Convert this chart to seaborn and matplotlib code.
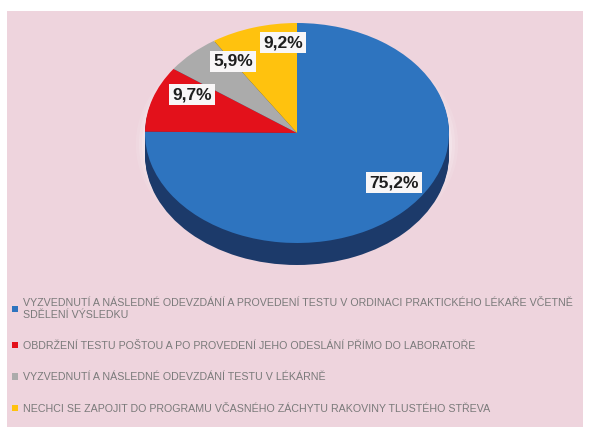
import numpy as np
import matplotlib
matplotlib.use("Agg")
import matplotlib.pyplot as plt
from matplotlib.patches import Rectangle
import seaborn as sns

# Survey answers and their shares (%)
categories = [
    "VYZVEDNUTÍ A NÁSLEDNÉ ODEVZDÁNÍ A PROVEDENÍ TESTU V ORDINACI PRAKTICKÉHO LÉKAŘE VČETNĚ\nSDĚLENÍ VÝSLEDKU",
    "OBDRŽENÍ TESTU POŠTOU A PO PROVEDENÍ JEHO ODESLÁNÍ PŘÍMO DO LABORATOŘE",
    "VYZVEDNUTÍ A NÁSLEDNÉ ODEVZDÁNÍ TESTU V LÉKÁRNĚ",
    "NECHCI SE ZAPOJIT DO PROGRAMU VČASNÉHO ZÁCHYTU RAKOVINY TLUSTÉHO STŘEVA",
]
shares = [75.2, 9.7, 5.9, 9.2]

colors = ["#2E74BF", "#E3111B", "#ABABAB", "#FFC20E"]
side_color = "#1C3A6A"
panel_color = "#EED4DD"

sns.set_theme(style="white")
plt.rcParams["font.family"] = ["Liberation Sans", "DejaVu Sans"]

W, H = 592, 432
fig = plt.figure(figsize=(W / 100, H / 100), dpi=100, facecolor="white")
fig.patches.append(Rectangle((7 / W, 5 / H), 576 / W, 416 / H,
                             transform=fig.transFigure, fc=panel_color,
                             ec="none", zorder=-5))

# pie axes: 152 px per unit horizontally, 110 px per unit vertically
sx, sy = 152, 110
cx, cy = 297, 133
xlim = (-1.1, 1.1)
ylim = (-1.35, 1.1)
left = cx + xlim[0] * sx
top = cy - ylim[1] * sy
bottom = cy - ylim[0] * sy
ax = fig.add_axes([left / W, (H - bottom) / H,
                   (xlim[1] - xlim[0]) * sx / W, (bottom - top) / H])
ax.set_zorder(2)
ax.patch.set_visible(False)

depth = 0.2

# soft halo around the disc
for r, a in [(1.06, 0.10), (1.04, 0.14), (1.02, 0.20)]:
    ax.pie([1], colors=["white"], radius=r, center=(0, -depth / 2),
           wedgeprops=dict(linewidth=0, alpha=a))

# side of the disc
for d in np.linspace(0, depth, 16)[1:]:
    ax.pie([1], colors=[side_color], radius=1, center=(0, -d),
           wedgeprops=dict(linewidth=0))

def pct_fmt(p):
    return f"{p:.1f}%".replace(".", ",")

wedges, texts, autotexts = ax.pie(
    shares, colors=colors, startangle=90, counterclock=False,
    autopct=pct_fmt, wedgeprops=dict(linewidth=0),
)

label_xy = [(0.64, -0.45), (-0.69, 0.35), (-0.42, 0.65), (-0.09, 0.82)]
for t, xy in zip(autotexts, label_xy):
    t.set_position(xy)
    t.set_fontsize(12.5)
    t.set_fontweight("bold")
    t.set_color("#1E1E1E")
    t.set_bbox(dict(boxstyle="square,pad=0.18", fc="#F8F6F7", ec="none"))

ax.set_aspect("auto")
ax.set_xlim(*xlim)
ax.set_ylim(*ylim)
ax.axis("off")

leg = fig.legend(wedges, categories, loc="upper left",
                 bbox_to_anchor=(12 / W, 1 - 298 / H), frameon=False,
                 fontsize=7.7, handlelength=0.55, handleheight=0.55,
                 handletextpad=0.45, labelspacing=2.0, borderaxespad=0,
                 borderpad=0, labelcolor="#7A7A7A")
leg.set_zorder(3)

fig.savefig("out.png", dpi=100, facecolor="white")
